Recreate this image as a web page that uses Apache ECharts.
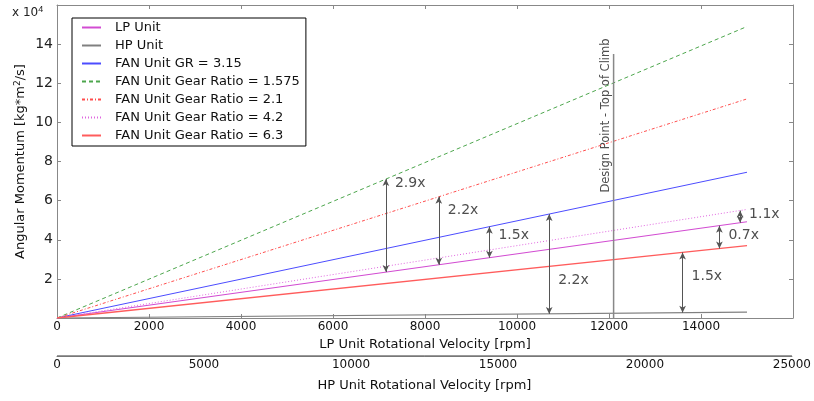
<!DOCTYPE html>
<html lang="en">
<head>
    <meta charset="UTF-8">
    <title>Angular Momentum</title>
    <script src="https://cdn.jsdelivr.net/npm/echarts@6/dist/echarts.min.js"></script>
</head>
<body style="margin:0">
<div id="main" style="width: 814px;height:401px;"></div>
</body>
<script type="text/javascript">
    // LP rotational velocity [rpm] of the line endpoints
    var lpRpm = [0, 15000];
    // angular momentum in units of 10^4 kg*m^2/s
    var lpUnit = [0, 4.92];
    var hpUnit = [0, 0.30];
    var fanGR315 = [0, 7.45];
    var fanGR1575 = [0, 14.9];
    var fanGR21 = [0, 11.2];
    var fanGR42 = [0, 5.55];
    var fanGR63 = [0, 3.70];

    var designRpm = 12100;
    var designTop = 13.5;

    // ratio arrows: x position, upper end, lower end, label, label height
    var arrowRpm = [7150, 8300, 9400, 10700, 13600, 14400, 14850];
    var arrowTop = [7.10, 6.20, 4.67, 5.31, 3.35, 4.72, 5.49];
    var arrowBottom = [2.35, 2.72, 3.08, 0.21, 0.27, 3.55, 4.87];
    var arrowText = ['2.9x', '2.2x', '1.5x', '2.2x', '1.5x', '0.7x', '1.1x'];
    var arrowTextY = [6.9, 5.5, 4.25, 1.9, 2.15, 4.25, 5.3];

    var names = ['LP Unit', 'HP Unit', 'FAN Unit GR = 3.15', 'FAN Unit Gear Ratio = 1.575',
        'FAN Unit Gear Ratio = 2.1', 'FAN Unit Gear Ratio = 4.2', 'FAN Unit Gear Ratio = 6.3'];

    function pts(arr) {
        return lpRpm.map(function (x, i) { return [x, arr[i]]; });
    }

    var font = 'DejaVu Sans';
    var frame = {show: true, onZero: false, lineStyle: {color: '#888'}};
    var ticks = {show: true, inside: true, length: 4, lineStyle: {color: '#888'}};
    var plain = function (v) { return String(v); };

    function lineSeries(name, arr, color, type, width) {
        return {
            name: name, type: 'line', data: pts(arr), symbol: 'none',
            lineStyle: {color: color, type: type, width: width}, itemStyle: {color: color},
            animation: false, z: 3
        };
    }

    var myChart = echarts.init(document.getElementById('main'));

    var option = {
        textStyle: {fontFamily: font},
        // second, flat grid only carries the HP rpm axis under the main plot
        grid: [
            {left: 57, right: 21, top: 5, bottom: 83},
            {left: 57, right: 21, top: 356, height: 0, show: true,
                borderColor: '#777', borderWidth: 1, backgroundColor: 'transparent'}
        ],
        legend: {
            data: names, orient: 'vertical', left: 72, top: 18,
            padding: [3, 6, 4, 9], itemGap: 5, itemWidth: 19, itemHeight: 14,
            borderColor: '#000', borderWidth: 1, backgroundColor: '#fff',
            itemStyle: {opacity: 0},
            textStyle: {fontFamily: font, fontSize: 13, color: '#111', padding: [0, 0, 0, 9]}
        },
        graphic: [{
            type: 'text', left: 12, top: 5,
            style: {
                text: 'x 10{s|4}', fontFamily: font, fontSize: 12, fill: '#222',
                rich: {s: {fontSize: 9, verticalAlign: 'top', padding: [0, 0, 6, 0]}}
            }
        }],
        xAxis: [{
            type: 'value', position: 'bottom', min: 0, max: 16000, interval: 2000,
            name: 'LP Unit Rotational Velocity [rpm]', nameLocation: 'middle', nameGap: 17,
            nameTextStyle: {fontSize: 13, color: '#111'},
            axisLine: frame, axisTick: ticks,
            splitLine: {show: false},
            axisLabel: {
                fontSize: 12, color: '#111', margin: 3,
                formatter: function (v) { return v === 16000 ? '' : String(v); }
            }
        }, {
            type: 'value', position: 'top', min: 0, max: 16000, interval: 2000,
            axisLine: frame, axisTick: ticks,
            axisLabel: {show: false}, splitLine: {show: false}
        }, {
            type: 'value', gridIndex: 1, position: 'top', min: 0, max: 25000, interval: 5000,
            name: 'HP Unit Rotational Velocity [rpm]', nameLocation: 'middle', nameGap: -36,
            nameTextStyle: {fontSize: 13, color: '#111'},
            axisLine: {show: true, onZero: false, lineStyle: {color: '#777'}},
            axisTick: {show: false}, splitLine: {show: false},
            axisLabel: {fontSize: 12, color: '#111', margin: 3, inside: true, formatter: plain}
        }],
        yAxis: [{
            type: 'value', min: 0, max: 16, interval: 2,
            name: 'Angular Momentum [kg*m{s|2}/s]', nameLocation: 'middle', nameGap: 29,
            nameMoveOverlap: false,
            nameTextStyle: {
                fontSize: 13, color: '#111',
                rich: {s: {fontSize: 9, verticalAlign: 'top', padding: [0, 0, 6, 0]}}
            },
            axisLine: frame, axisTick: ticks,
            splitLine: {show: false},
            axisLabel: {
                fontSize: 14, color: '#222', margin: 4,
                formatter: function (v) { return (v === 0 || v === 16) ? '' : String(v); }
            }
        }, {
            type: 'value', position: 'right', min: 0, max: 16, interval: 2,
            axisLine: frame, axisTick: ticks,
            axisLabel: {show: false}, splitLine: {show: false}
        }, {
            type: 'value', gridIndex: 1, show: false
        }],
        series: [
            lineSeries(names[0], lpUnit, '#d24cd2', 'solid', 1.2),
            lineSeries(names[1], hpUnit, '#808080', 'solid', 1.2),
            lineSeries(names[2], fanGR315, '#4c4cff', 'solid', 1),
            lineSeries(names[3], fanGR1575, '#4da64d', [4, 3], 1),
            lineSeries(names[4], fanGR21, '#ff4d4d', [3, 2, 1, 2], 1),
            lineSeries(names[5], fanGR42, '#e066e0', [1, 2], 1),
            lineSeries(names[6], fanGR63, '#ff5c5c', 'solid', 1.4),
            {
                type: 'line', symbol: 'none', animation: false, z: 4,
                data: [[designRpm, 0], [designRpm, designTop]],
                lineStyle: {color: '#888', width: 1.5}
            },
            {
                type: 'line', symbol: 'none', animation: false, data: [], z: 5,
                markLine: {
                    silent: true, symbol: ['arrow', 'arrow'], symbolSize: [5, 7],
                    lineStyle: {color: '#555', type: 'solid', width: 1},
                    label: {show: false}, animation: false,
                    data: arrowRpm.map(function (x, i) {
                        return [{coord: [x, arrowTop[i]]}, {coord: [x, arrowBottom[i]]}];
                    })
                }
            },
            {
                type: 'scatter', symbolSize: 0, animation: false, silent: true,
                data: arrowRpm.map(function (x, i) {
                    return {value: [x, arrowTextY[i]], name: arrowText[i]};
                }),
                label: {
                    show: true, position: 'right', distance: 9, formatter: '{b}',
                    fontFamily: font, fontSize: 14, color: '#222'
                }
            },
            {
                type: 'scatter', symbolSize: 0, animation: false, silent: true,
                data: [{value: [11940, 10.35], name: 'Design Point - Top of Climb'}],
                label: {
                    show: true, position: 'inside', rotate: 90, formatter: '{b}',
                    fontFamily: font, fontSize: 11.5, color: '#222'
                }
            }
        ]
    };

    myChart.setOption(option);
</script>
</html>
